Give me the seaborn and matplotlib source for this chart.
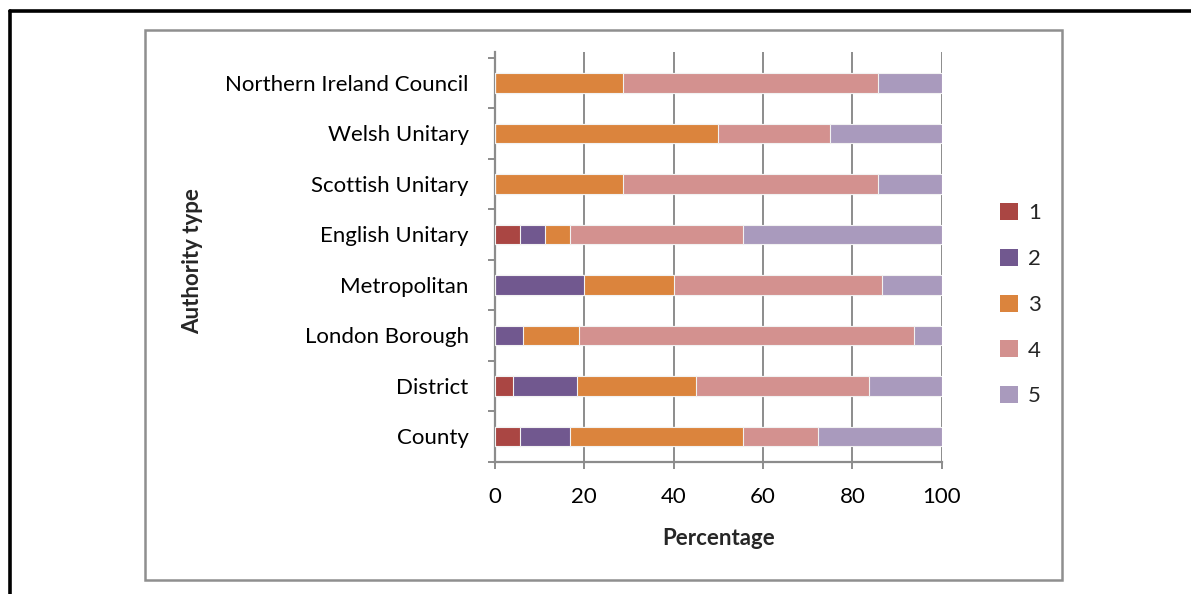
import numpy as np
import pandas as pd
import matplotlib
matplotlib.use("Agg")
import matplotlib.pyplot as plt
from matplotlib.patches import Patch, Rectangle
from matplotlib.lines import Line2D
import seaborn as sns

# Authority types, listed top to bottom
categories = [
    "Northern Ireland Council",
    "Welsh Unitary",
    "Scottish Unitary",
    "English Unitary",
    "Metropolitan",
    "London Borough",
    "District",
    "County",
]

# Percentage of each authority type giving each rating (1-5)
rating_1 = [0.0, 0.0, 0.0, 5.6, 0.0, 0.0, 4.0, 5.6]
rating_2 = [0.0, 0.0, 0.0, 5.6, 20.0, 6.2, 14.4, 11.1]
rating_3 = [28.6, 50.0, 28.6, 5.6, 20.0, 12.5, 26.6, 38.9]
rating_4 = [57.1, 25.0, 57.1, 38.8, 46.7, 75.0, 38.8, 16.7]
rating_5 = [14.3, 25.0, 14.3, 44.4, 13.3, 6.3, 16.2, 27.7]

series_names = ["1", "2", "3", "4", "5"]
series_colors = ["#AA4643", "#71588F", "#DB843D", "#D3918F", "#A99ABD"]

sns.set_theme(style="white")
plt.rcParams["font.family"] = ["Lato", "DejaVu Sans"]
FS = 16

df = pd.DataFrame(
    {"category": categories, "1": rating_1, "2": rating_2, "3": rating_3,
     "4": rating_4, "5": rating_5}
)
cum = df[series_names].cumsum(axis=1)

W, H = 1191, 594
fig = plt.figure(figsize=(W / 100, H / 100), dpi=100)

# axes placed in pixel terms
ax_l, ax_r, ax_t, ax_b = 495, 941.7, 51.7, 461.7
ax = fig.add_axes([ax_l / W, 1 - ax_b / H, (ax_r - ax_l) / W, (ax_b - ax_t) / H])

# stacked bars: draw cumulative totals from the last segment backwards
for name, color in reversed(list(zip(series_names, series_colors))):
    sns.barplot(
        x=cum[name], y=df["category"], orient="h", color=color,
        width=0.39, ax=ax, edgecolor="#F2F2F2", linewidth=0.8,
        saturation=1.0, zorder=3,
    )

ax.set_xlim(0, 100)
ax.set_ylim(len(categories) - 0.5, -0.62)
ax.set_xticks([0, 20, 40, 60, 80, 100])
ax.grid(axis="x", color="#8C8C8C", linewidth=1.4, zorder=0)
ax.grid(axis="y", visible=False)
ax.set_axisbelow(True)

for s in ["top", "right"]:
    ax.spines[s].set_visible(False)
for s in ["left", "bottom"]:
    ax.spines[s].set_color("#8C8C8C")
    ax.spines[s].set_linewidth(1.6)

# category ticks sit between categories
ax.set_yticks(np.arange(-0.5, len(categories), 1.0), minor=True)
ax.tick_params(axis="y", which="minor", length=5, width=1.4, color="#8C8C8C",
               direction="out", left=True)
ax.tick_params(axis="y", which="major", length=0, pad=19, labelsize=FS,
               labelcolor="black", left=False)
ax.tick_params(axis="x", which="major", length=5, width=1.4, color="#8C8C8C",
               direction="out", pad=13, labelsize=FS, labelcolor="black",
               bottom=True)

ax.set_xlabel("Percentage", fontsize=FS, fontweight="bold", labelpad=15.5)
ax.set_ylabel("")
fig.text(193 / W, 1 - 261 / H, "Authority type", rotation=90, fontsize=FS,
         fontweight="bold", ha="center", va="center")

handles = [Patch(facecolor=c, edgecolor="none") for c in series_colors]
fig.legend(
    handles, series_names, loc="upper left",
    bbox_to_anchor=(1000 / W, 1 - 203 / H), frameon=False, fontsize=FS,
    handlelength=0.8, handleheight=0.8, labelspacing=1.15,
    handletextpad=0.45, borderpad=0, borderaxespad=0,
)

# chart area frame
fig.add_artist(Rectangle((145 / W, 1 - 580 / H), (1062 - 145) / W,
                         (580 - 30) / H, transform=fig.transFigure,
                         fill=False, edgecolor="#8F8F8F", linewidth=1.8))
# outer black border on top and left
fig.add_artist(Line2D([10 / W, 1.0], [1 - 11 / H, 1 - 11 / H],
                      transform=fig.transFigure, color="black", linewidth=2.6))
fig.add_artist(Line2D([10 / W, 10 / W], [0.0, 1 - 11 / H],
                      transform=fig.transFigure, color="black", linewidth=2.6))

fig.savefig("out.png", dpi=100, facecolor="white")
